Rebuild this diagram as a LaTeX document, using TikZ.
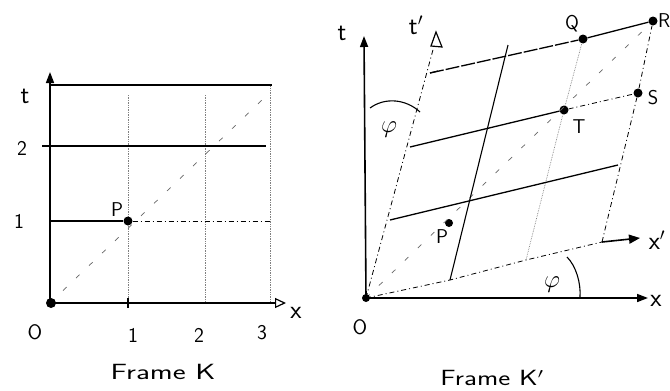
\documentclass[tikz,border=0pt]{standalone}
\usepackage{graphicx}
\usetikzlibrary{arrows.meta}
\begin{document}
\begin{tikzpicture}[x=1pt,y=-1pt,
  lbl/.style={font=\sffamily\fontsize{26}{28}\selectfont, inner sep=0pt},
  capl/.style={font=\sffamily\fontsize{20}{22}\selectfont, inner sep=0pt},
  num/.style={font=\sffamily\fontsize{21}{23}\selectfont, inner sep=0pt},
  phil/.style={font=\fontsize{27}{29}\selectfont, inner sep=0pt},
  captxt/.style={font=\sffamily\fontsize{22}{24}\selectfont, inner sep=0pt},
  axis/.style={line width=1.6pt},
  solidgrid/.style={line width=1.3pt},
  dotgrid/.style={line width=0.7pt, gray, densely dotted},
  dashgrid/.style={line width=0.8pt, dash pattern=on 5pt off 3pt on 1pt off 3pt},
  diag/.style={line width=0.7pt, gray!80!black, dash pattern=on 5pt off 13pt},
  dot/.style={circle, fill=black, inner sep=0pt, minimum size=9pt},
  fillarrow/.style={-{Triangle[length=11pt,width=8pt]}},
  openarrow/.style={-{Triangle[open,length=11pt,width=10pt,line width=1.2pt]}}
]
\useasboundingbox (0,0) rectangle (670,391);

% ---------------- Frame K ----------------
\coordinate (O1) at (50,303);
\coordinate (tTop) at (50,72);
\coordinate (xEnd) at (286,303);
\coordinate (a1b) at (128,303);
\coordinate (a1t) at (128,95);
\coordinate (a2b) at (205,303);
\coordinate (a2t) at (205,95);
\coordinate (a3b) at (270,303);
\coordinate (a3t) at (270,85);
\coordinate (h1l) at (50,221);
\coordinate (h1r) at (270,221);
\coordinate (h2l) at (42,146);
\coordinate (h2r) at (266,146);
\coordinate (htl) at (50,85);
\coordinate (htr) at (272,85);
\coordinate (dEnd) at (262,100);

\draw[dotgrid] (a1b) -- (a1t);
\draw[dotgrid] (a2b) -- (a2t);
\draw[dotgrid] (a3b) -- (a3t);
\draw[solidgrid] (htl) -- (htr);
\draw[solidgrid] (h2l) -- (h2r);
\node[dot] (P1) at (128,221) {};
\draw[solidgrid] (h1l) -- (P1);
\draw[dashgrid, line width=0.9pt] (P1) -- (h1r);
\draw[diag] (O1) -- (dEnd);
\draw[axis, fillarrow] (O1) -- (tTop);
\draw[axis, openarrow] (O1) -- (xEnd);
\draw[line width=1.2pt] (128,298) -- (128,308);
\node[circle, fill=black, inner sep=0pt, minimum width=7pt, minimum height=10pt] (Odot1) at (51,303) {};

\node[lbl] (tK) at (25,96) {t};
\node[num] (t2) at (22,148) {2};
\node[num] (t1) at (19,221) {1};
\node[capl] (PK) at (117,210) {P};
\node[num] (OK) at (35,332) {O};
\node[num] (x1) at (133,335) {1};
\node[num] (x2) at (199,335) {2};
\node[num] (x3) at (262,333) {3};
\node[lbl] (xK) at (296,313) {x};
\node[captxt] (FK) at (163,372) {\scalebox{1.4}[1]{Frame K}};

% ---------------- Frame K' ----------------
\coordinate (O2) at (366,298);
\coordinate (tTop2) at (364,36);
\coordinate (xEnd2) at (648,298);
\coordinate (xpEnd) at (640,238);
\coordinate (g10) at (450,280);
\coordinate (g20) at (526,260);
\coordinate (g30) at (602,242);
\coordinate (g01) at (390,220);
\coordinate (g02) at (410,147);
\coordinate (g03) at (430,73);
\coordinate (tpTop) at (434,46);
\coordinate (v1t) at (508,45);
\coordinate (h1e) at (618,165);

\node[dot] (T) at (564,110) {};
\node[dot] (S) at (638,93) {};
\node[dot] (Q) at (583,39) {};
\node[dot] (R) at (653,21) {};
\node[circle, fill=black, inner sep=0pt, minimum size=8pt] (Pp) at (449,223) {};

% diagonal
\draw[diag] (O2) -- (R);
% lines of constant x'
\draw[dashgrid] (O2) -- (tpTop);
\draw[solidgrid, line width=1.1pt] (g10) -- (v1t);
\draw[dotgrid] (g20) -- (T) -- (Q);
\draw[dashgrid] (g30) -- (S) -- (R);
% lines of constant t'
\draw[dashgrid] (O2) -- (g10) -- (g20) -- (g30);
\draw[axis, -{Triangle[length=11pt,width=9pt]}] (g30) -- (xpEnd);
\draw[solidgrid] (g01) -- (h1e);
\draw[solidgrid] (g02) -- (T);
\draw[dashgrid] (T) -- (S);
\draw[solidgrid, dash pattern=on 14pt off 2pt] (g03) -- (Q);
\draw[solidgrid] (Q) -- (R);
\draw[line width=1.2pt] (g03) -- ++(8,-2);
% axes
\draw[axis, fillarrow] (O2) -- (tTop2);
\draw[axis, fillarrow] (O2) -- (xEnd2);
\node[circle, fill=black, inner sep=0pt, minimum size=8pt] (Odot2) at (O2) {};
% t' open arrowhead
\draw[line width=1.2pt] (431,46) -- (436,32) -- (442,47) -- cycle;
% angle arcs
\draw[line width=1.1pt] (370,108) .. controls (385,97) and (406,99) .. (420,112);
\draw[line width=1.1pt] (567,257) .. controls (576,266) and (581,283) .. (580,297);

\node[lbl] (tR) at (342,33) {t};
\node[lbl] (tpR) at (416,25) {t$'$};
\node[phil] (phi1) at (389,130) {$\varphi$};
\node[phil] (phi2) at (552,285) {$\varphi$};
\node[capl] (Ql) at (572,24) {Q};
\node[capl, anchor=west] (Rl) at (658,21) {R};
\node[capl] (Sl) at (653,98) {S};
\node[capl] (Tl) at (579,127) {T};
\node[capl] (Pl) at (442,237) {P};
\node[lbl] (xpl) at (657,240) {x$'$};
\node[lbl] (xl) at (656,301) {x};
\node[num] (O2l) at (360,327) {O};
\node[captxt] (FK2) at (492,378) {\scalebox{1.3}[1]{Frame K$'$}};
\end{tikzpicture}
\end{document}
